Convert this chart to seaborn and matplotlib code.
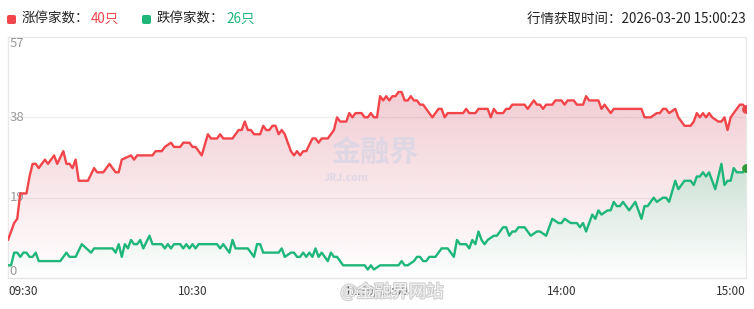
import numpy as np
import pandas as pd
import matplotlib
matplotlib.use("Agg")
import matplotlib.pyplot as plt
import matplotlib.patheffects as pe
from matplotlib.patches import FancyBboxPatch
from matplotlib.transforms import IdentityTransform
from matplotlib.colors import to_rgb
import seaborn as sns

# ---------------- data (trading-minute index since 09:30, 0..240) ----------------
up_minutes = [0, 2, 3, 4, 6, 7, 8, 9, 10, 12, 13, 15, 16, 18, 19, 20, 21, 22, 23, 26,
              28, 29, 31, 33, 35, 36, 37, 40, 41, 42, 47, 48, 50, 51, 53, 54, 56, 57, 59, 60,
              61, 63, 65, 66, 68, 69, 70, 73, 75, 76, 77, 78, 79, 80, 82, 83, 84, 85, 86, 87,
              88, 89, 90, 91, 92, 93, 94, 95, 96, 97, 99, 100, 101, 102, 104, 105, 106, 107, 108, 110,
              111, 112, 113, 115, 116, 117, 118, 119, 120, 121, 122, 123, 124, 125, 126, 127, 128, 129, 130, 131,
              132, 133, 134, 135, 136, 138, 139, 140, 141, 142, 143, 148, 149, 150, 152, 153, 156, 157, 158, 159,
              161, 162, 163, 164, 168, 169, 171, 172, 173, 174, 175, 177, 178, 180, 181, 182, 184, 185, 187, 188,
              189, 192, 193, 194, 195, 196, 197, 206, 207, 209, 211, 212, 213, 214, 215, 217, 218, 220, 222, 223,
              224, 225, 226, 227, 228, 229, 231, 232, 233, 234, 235, 237, 238, 239, 240]
up_counts = [9, 13, 14, 20, 20, 24, 27, 27, 26, 28, 27, 29, 27, 30, 27, 27, 26, 28, 23, 23,
             26, 25, 25, 27, 25, 25, 28, 29, 28, 29, 29, 30, 30, 31, 32, 31, 31, 32, 32, 31,
             31, 29, 34, 33, 33, 34, 33, 33, 35, 35, 37, 35, 35, 34, 34, 36, 35, 35, 36, 36,
             34, 35, 34, 32, 30, 29, 30, 29, 30, 30, 33, 33, 32, 33, 33, 34, 35, 38, 37, 37,
             39, 38, 39, 39, 38, 38, 39, 38, 38, 43, 42, 43, 42, 43, 43, 44, 44, 42, 42, 43,
             42, 42, 41, 41, 40, 38, 39, 40, 40, 38, 39, 39, 40, 39, 39, 40, 40, 38, 40, 39,
             39, 40, 40, 41, 41, 40, 42, 41, 41, 40, 41, 41, 42, 42, 41, 42, 42, 41, 41, 43,
             42, 42, 40, 41, 40, 39, 40, 40, 38, 38, 39, 39, 40, 40, 39, 40, 38, 36, 36, 37,
             39, 38, 39, 38, 39, 38, 37, 37, 38, 35, 38, 40, 41, 41, 40]

down_minutes = [0, 1, 2, 3, 4, 5, 6, 7, 8, 9, 10, 17, 19, 20, 22, 24, 27, 28, 34, 35,
                36, 37, 38, 39, 40, 41, 42, 43, 44, 46, 47, 50, 51, 52, 53, 54, 56, 57, 58, 59,
                60, 61, 62, 68, 69, 70, 72, 73, 74, 78, 80, 81, 82, 83, 85, 88, 89, 90, 92, 93,
                94, 95, 96, 97, 98, 99, 100, 101, 102, 104, 105, 106, 107, 109, 116, 117, 118, 119, 121, 127,
                128, 129, 130, 132, 133, 134, 135, 136, 137, 139, 141, 143, 145, 146, 147, 149, 150, 151, 152, 153,
                154, 155, 156, 158, 159, 161, 162, 163, 164, 165, 166, 168, 170, 172, 173, 175, 177, 179, 180, 181,
                183, 185, 186, 187, 188, 190, 191, 192, 193, 195, 196, 197, 198, 199, 200, 201, 202, 204, 205, 206,
                207, 208, 210, 211, 213, 214, 215, 217, 218, 220, 222, 223, 224, 225, 226, 227, 228, 230, 231, 232,
                233, 234, 235, 236, 237, 239, 240]
down_counts = [3, 3, 6, 6, 5, 6, 6, 5, 5, 6, 4, 4, 6, 5, 5, 8, 6, 7, 7, 6,
               8, 5, 8, 7, 9, 8, 8, 9, 7, 10, 8, 8, 7, 8, 7, 8, 8, 7, 8, 7,
               8, 7, 8, 8, 7, 8, 6, 9, 7, 7, 5, 8, 8, 6, 6, 6, 7, 5, 6, 6,
               5, 5, 6, 5, 6, 5, 7, 5, 6, 4, 6, 5, 5, 3, 3, 2, 3, 2, 3, 3,
               4, 3, 3, 4, 5, 5, 4, 4, 5, 5, 7, 7, 5, 9, 8, 8, 7, 9, 8, 11,
               9, 8, 9, 10, 10, 12, 12, 10, 11, 11, 12, 12, 10, 11, 11, 10, 14, 13, 13, 14,
               13, 13, 12, 13, 11, 15, 14, 16, 15, 16, 16, 18, 17, 17, 18, 17, 16, 18, 16, 14,
               17, 17, 19, 18, 19, 19, 18, 23, 21, 23, 23, 22, 24, 24, 25, 24, 25, 21, 24, 27,
               22, 23, 23, 26, 25, 25, 26]

tick_minutes = [0, 60, 120, 180, 240]
tick_labels = ["09:30", "10:30", "11:30/13:00", "14:00", "15:00"]
y_ticks = [0, 19, 38, 57]

up_label = "涨停家数："
up_total = "40只"
down_label = "跌停家数："
down_total = "26只"
fetch_time = "行情获取时间：2026-03-20 15:00:23"

RED = "#f2454a"
GREEN = "#1fb67a"

# ---------------- figure ----------------
sns.set_style("white")
plt.rcParams["font.family"] = ["Noto Sans CJK SC", "DejaVu Sans"]

W, H = 754, 309
fig = plt.figure(figsize=(W / 100, H / 100), dpi=100)
fig.patch.set_facecolor("white")
ax = fig.add_axes([8 / W, 31 / H, 738 / W, 241 / H])
ax.set_xlim(0, 240)
ax.set_ylim(0, 57)

up_df = pd.DataFrame({"minute": up_minutes, "count": up_counts})
down_df = pd.DataFrame({"minute": down_minutes, "count": down_counts})


def gradient_fill(ax, xs, ys, color, a_top, zorder, underlay=None):
    top = max(ys)
    if underlay is not None:
        ax.fill_between(xs, ys, 0, facecolor=underlay, edgecolor="none", zorder=zorder - 0.1)
    poly = ax.fill_between(xs, ys, 0, facecolor="none", edgecolor="none", zorder=zorder)
    rgb = to_rgb(color)
    grad = np.zeros((256, 1, 4))
    grad[:, 0, 0], grad[:, 0, 1], grad[:, 0, 2] = rgb
    grad[:, 0, 3] = np.linspace(0.0, a_top, 256)
    im = ax.imshow(grad, aspect="auto", origin="lower",
                   extent=[min(xs), max(xs), 0, top], zorder=zorder,
                   interpolation="bilinear")
    im.set_clip_path(poly.get_paths()[0], transform=ax.transData)


gradient_fill(ax, up_minutes, up_counts, "#cf4b63", 0.28, zorder=1)
gradient_fill(ax, down_minutes, down_counts, "#1e7846", 0.23, zorder=2, underlay="white")
ax.set_xlim(0, 240)
ax.set_ylim(0, 57)

sns.lineplot(data=up_df, x="minute", y="count", color=RED, linewidth=1.7, ax=ax, zorder=4)
sns.lineplot(data=down_df, x="minute", y="count", color=GREEN, linewidth=1.7, ax=ax, zorder=4)

ax.scatter([up_minutes[-1]], [up_counts[-1]], s=28, color="#e8464b", zorder=5, clip_on=True)
ax.scatter([down_minutes[-1]], [down_counts[-1]], s=28, color="#2f9a3a", zorder=5, clip_on=True)

# grid & frame
for yv in y_ticks[1:-1]:
    ax.axhline(yv, color="#eeeeee", linewidth=0.9, zorder=0.5)
for side in ["top", "left", "right"]:
    ax.spines[side].set_color("#e8e8e8")
    ax.spines[side].set_linewidth(0.9)
ax.spines["bottom"].set_color("#e3e3e3")
ax.spines["bottom"].set_linewidth(0.9)
ax.set_xlabel("")
ax.set_ylabel("")
ax.set_yticks([])
ax.set_xticks(tick_minutes)
ax.set_xticklabels([])
ax.tick_params(axis="x", length=4, width=0.8, color="#cccccc", direction="out")

# y labels inside plot
ylab_kw = dict(fontsize=9.5, color="#9a9a9a", ha="left", transform=ax.get_yaxis_transform())
for yv in y_ticks:
    va = "center"
    if yv == y_ticks[-1]:
        va = "top"
    elif yv == y_ticks[0]:
        va = "bottom"
    ax.text(0.002, yv, str(yv), va=va, **ylab_kw)

# x tick labels
for i, (m, lab) in enumerate(zip(tick_minutes, tick_labels)):
    ha = "center"
    if i == 0:
        ha = "left"
    elif i == len(tick_minutes) - 1:
        ha = "right"
    ax.text(m, -0.055, lab, transform=ax.get_xaxis_transform(), ha=ha, va="center",
            fontsize=8.5, color="#333333", zorder=5)

# watermarks
ax.text(0.497, 0.52, "金融界", transform=ax.transAxes, ha="center", va="center",
        fontsize=21, fontweight="bold", color="#ddd6e4", alpha=0.9, zorder=3)
ax.text(0.458, 0.415, "JRJ.com", transform=ax.transAxes, ha="center", va="center",
        fontsize=7.5, fontweight="bold", color="#ddd6e4", alpha=0.9, zorder=3)
fig.text(392 / W, 1 - 292 / H, "@金融界网站", ha="center", va="center", fontsize=12.5,
         color="white", alpha=0.75, zorder=10,
         path_effects=[pe.withStroke(linewidth=1.6, foreground="#c0c0c0", alpha=0.75)])


# header legend
def px(x, y):
    return x / W, 1 - y / H


for x0, col in [(7, RED), (142, GREEN)]:
    fig.patches.append(FancyBboxPatch((x0, H - 24), 9, 9, boxstyle="round,pad=0,rounding_size=2",
                                      transform=IdentityTransform(), facecolor=col,
                                      edgecolor="none", figure=fig))
fig.text(*px(22, 19), up_label, ha="left", va="center", fontsize=9.7, color="#222222")
fig.text(*px(91, 19), up_total, ha="left", va="center", fontsize=9.7, color=RED)
fig.text(*px(157, 19), down_label, ha="left", va="center", fontsize=9.7, color="#222222")
fig.text(*px(226, 19), down_total, ha="left", va="center", fontsize=9.7, color=GREEN)
fig.text(*px(746, 19), fetch_time, ha="right", va="center", fontsize=9.7, color="#222222")

fig.savefig("out.png", dpi=100, facecolor="white")
